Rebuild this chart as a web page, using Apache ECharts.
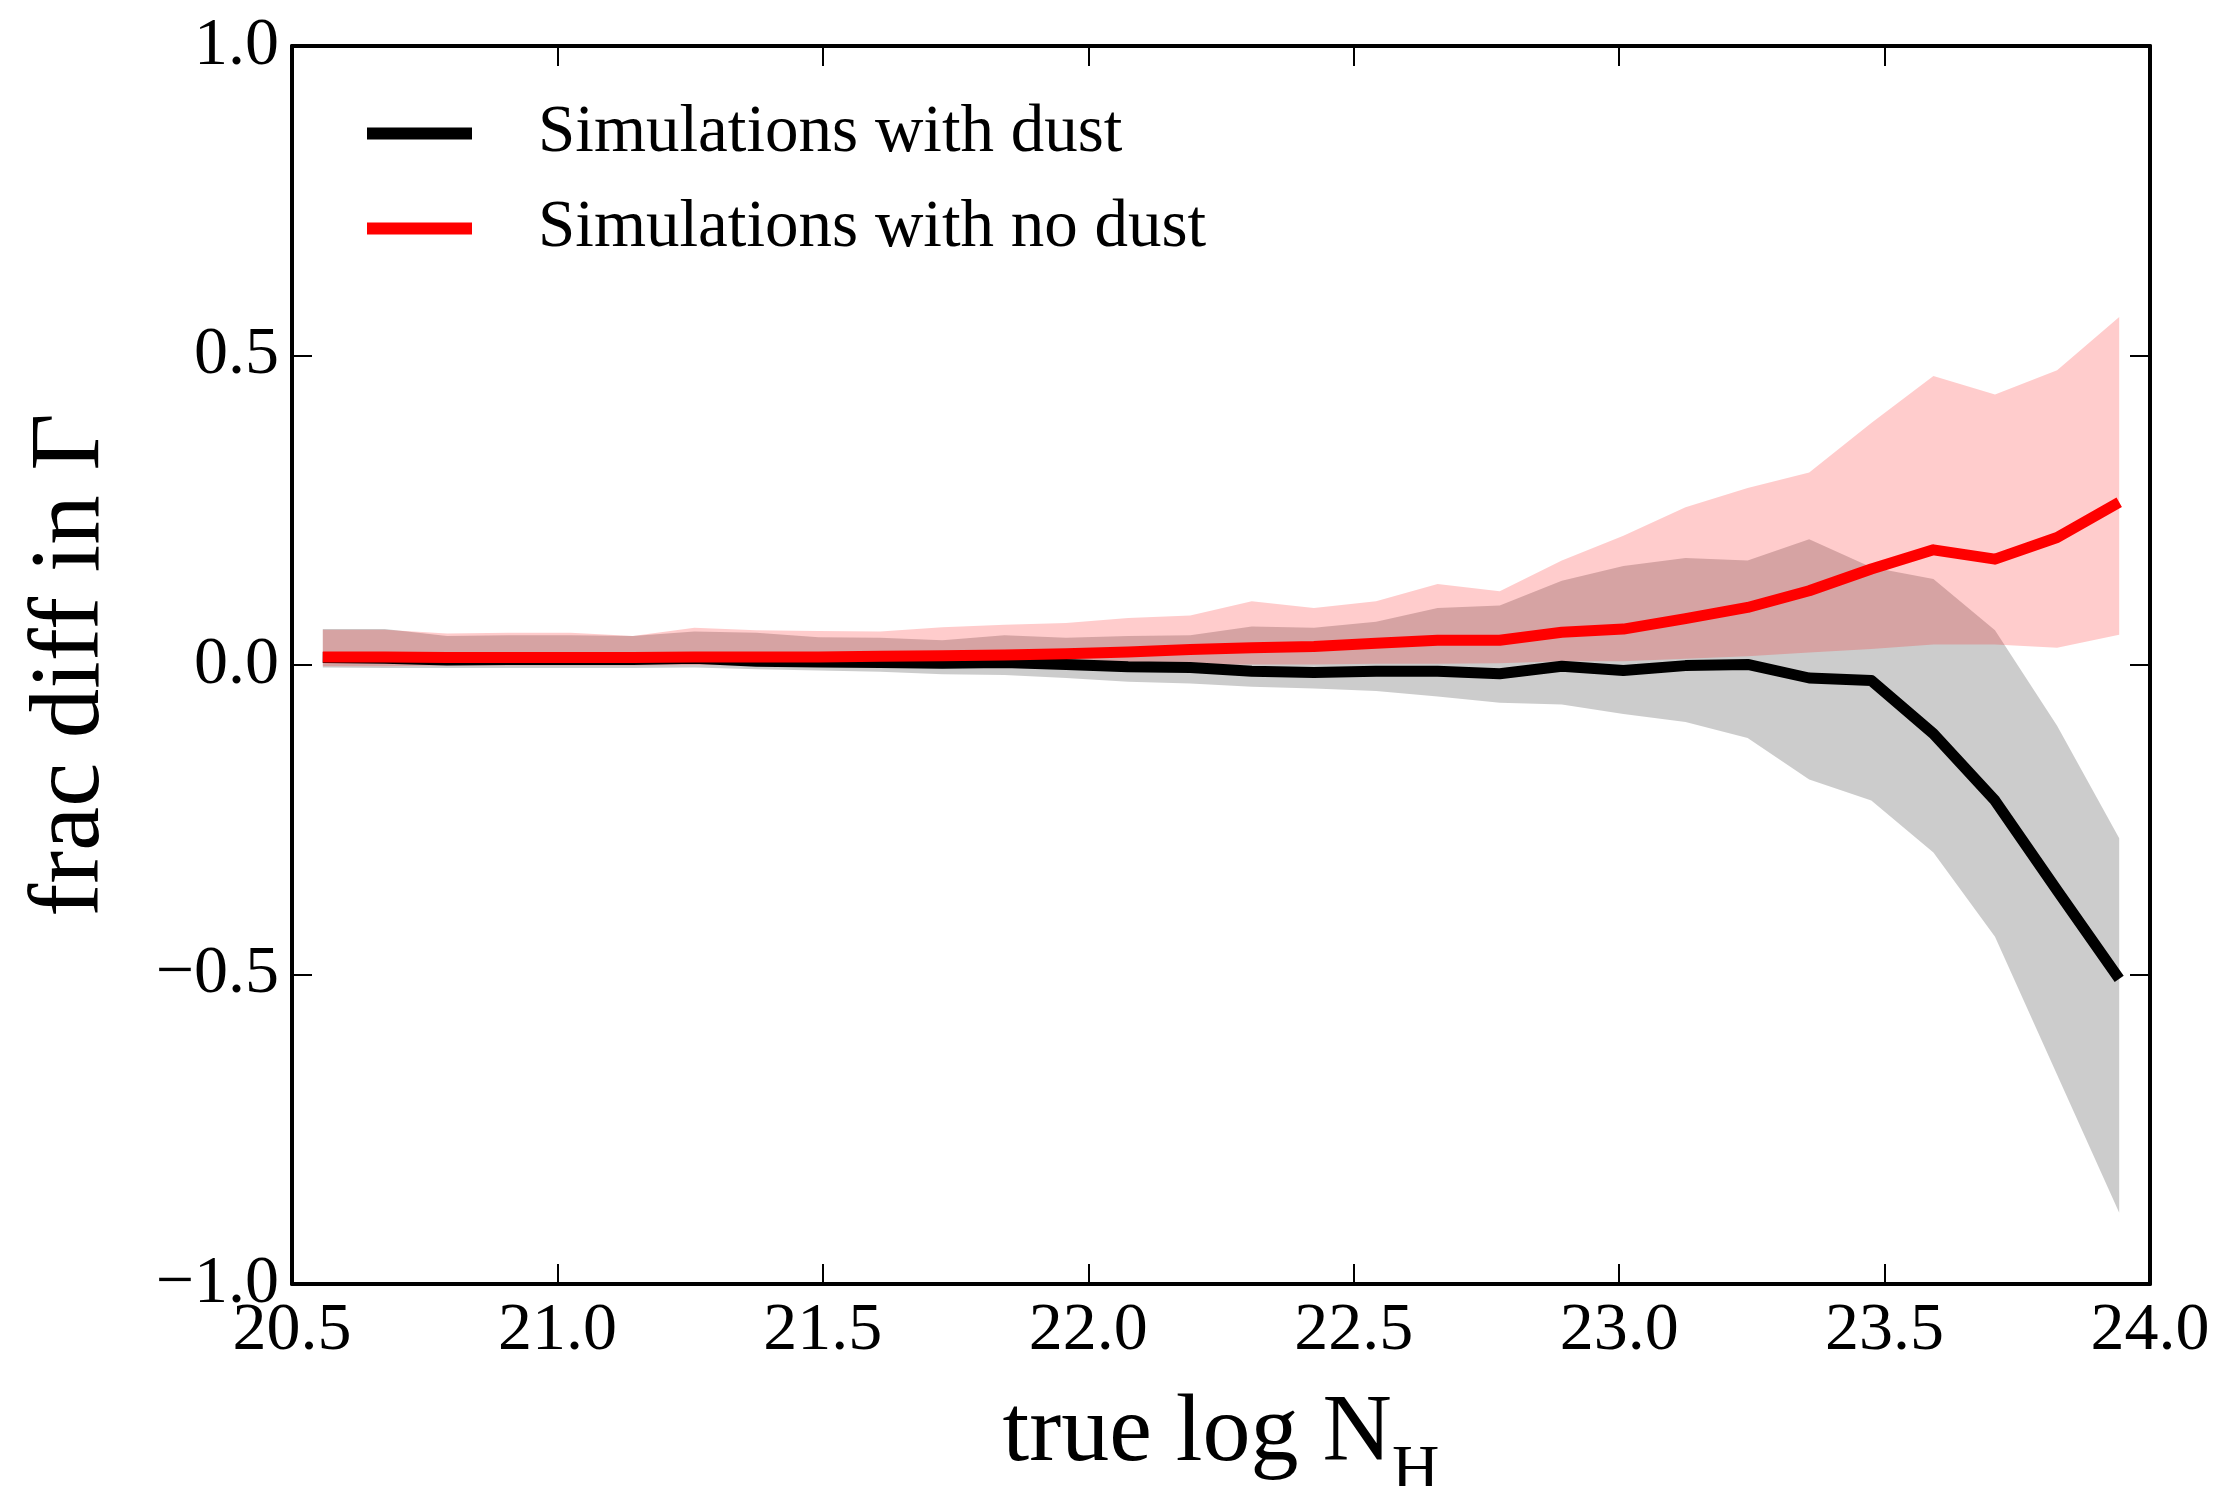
<!DOCTYPE html>
<html>
<head>
<meta charset="utf-8">
<script src="https://cdn.jsdelivr.net/npm/echarts@6/dist/echarts.min.js"></script>
<style>
  html, body { margin: 0; padding: 0; background: #ffffff; }
  #chart { width: 2230px; height: 1486px; }
</style>
</head>
<body>
<div id="chart"></div>
<script>
// Bin centres in true log N_H
const logNH = [20.558, 20.675, 20.792, 20.908, 21.025, 21.142, 21.258, 21.375, 21.492, 21.608,
               21.725, 21.842, 21.958, 22.075, 22.192, 22.308, 22.425, 22.542, 22.658, 22.775,
               22.892, 23.008, 23.125, 23.242, 23.358, 23.475, 23.592, 23.708, 23.825, 23.942];

// Median fractional difference in Gamma, simulations with dust
const dustMedian = [0.012, 0.011, 0.008, 0.009, 0.009, 0.009, 0.011, 0.006, 0.005, 0.004,
                    0.003, 0.004, 0.001, -0.003, -0.004, -0.010, -0.012, -0.010, -0.010, -0.014,
                    -0.002, -0.009, -0.001, 0.001, -0.021, -0.025, -0.111, -0.219, -0.364, -0.507];
// Spread of the dust simulations (lower / upper bounds)
const dustLower = [-0.004, -0.005, -0.005, -0.005, -0.005, -0.005, -0.004, -0.007, -0.009, -0.011,
                   -0.015, -0.016, -0.021, -0.027, -0.030, -0.035, -0.038, -0.042, -0.051, -0.061,
                   -0.064, -0.079, -0.092, -0.118, -0.185, -0.219, -0.303, -0.439, -0.662, -0.885];
const dustUpper = [0.058, 0.058, 0.047, 0.048, 0.048, 0.047, 0.054, 0.052, 0.045, 0.044,
                   0.040, 0.048, 0.044, 0.047, 0.048, 0.062, 0.060, 0.070, 0.092, 0.096,
                   0.136, 0.160, 0.173, 0.169, 0.203, 0.158, 0.139, 0.056, -0.098, -0.280];

// Median fractional difference in Gamma, simulations without dust
const noDustMedian = [0.013, 0.013, 0.012, 0.012, 0.012, 0.012, 0.013, 0.013, 0.013, 0.014,
                      0.015, 0.016, 0.018, 0.021, 0.025, 0.028, 0.030, 0.035, 0.040, 0.040,
                      0.053, 0.058, 0.075, 0.093, 0.120, 0.155, 0.186, 0.171, 0.206, 0.263];
const noDustLower = [-0.002, -0.002, -0.001, -0.001, -0.001, -0.001, 0.000, -0.001, -0.001, -0.001,
                     -0.001, 0.000, 0.000, 0.000, 0.000, 0.001, 0.001, 0.002, 0.002, 0.003,
                     0.006, 0.006, 0.010, 0.014, 0.020, 0.026, 0.033, 0.033, 0.028, 0.049];
const noDustUpper = [0.057, 0.057, 0.051, 0.052, 0.052, 0.047, 0.060, 0.056, 0.055, 0.054,
                     0.061, 0.065, 0.068, 0.076, 0.080, 0.103, 0.092, 0.103, 0.131, 0.119,
                     0.169, 0.209, 0.255, 0.286, 0.311, 0.391, 0.467, 0.437, 0.476, 0.562];

const seriesNames = ['Simulations with dust', 'Simulations with no dust'];
const xTicks = { min: 20.5, max: 24.0, step: 0.5 };
const yTicks = { min: -1.0, max: 1.0, step: 0.5 };

const FONT = '"Liberation Serif", "Times New Roman", serif';

const pairs = (ys) => logNH.map((x, i) => [x, ys[i]]);
const fmt = (v) => (v < 0 ? '\u2212' + Math.abs(v).toFixed(1) : v.toFixed(1));

const tickStyle = { show: true, inside: true, length: 20, lineStyle: { color: '#000', width: 2 } };
const lineStyleAxis = { show: true, onZero: false, lineStyle: { color: '#000', width: 4 } };

// Shaded spread between a lower and an upper bound, drawn as one polygon
// through the cartesian coordinate system.
function bandSeries(name, lo, hi, fill) {
  return {
    type: 'custom', name: name, silent: true, z: 1,
    data: logNH.map((x, i) => [x, lo[i], hi[i]]),
    encode: { x: 0, y: [1, 2] },
    renderItem: function (params, api) {
      if (params.dataIndex !== 0) return;
      const top = logNH.map((x, i) => api.coord([x, hi[i]]));
      const bottom = logNH.map((x, i) => api.coord([x, lo[i]])).reverse();
      return {
        type: 'polygon',
        shape: { points: top.concat(bottom) },
        style: { fill: fill, stroke: null }
      };
    }
  };
}

const chart = echarts.init(document.getElementById('chart'), null, { renderer: 'canvas' });

chart.setOption({
  animation: false,
  backgroundColor: '#ffffff',
  grid: { left: 292, right: 80, top: 46, bottom: 202, containLabel: false, outerBoundsMode: 'none' },
  legend: {
    data: seriesNames,
    orient: 'vertical',
    left: 362, top: 95,
    itemWidth: 105, itemHeight: 12, itemGap: 28,
    icon: 'rect',
    selectedMode: false,
    textStyle: { fontFamily: FONT, fontSize: 67, lineHeight: 66, color: '#000', padding: [0, 0, 0, 61] }
  },
  xAxis: [
    {
      type: 'value', position: 'bottom', min: xTicks.min, max: xTicks.max, interval: xTicks.step,
      axisLine: lineStyleAxis, axisTick: tickStyle, splitLine: { show: false },
      axisLabel: { fontFamily: FONT, fontSize: 68, color: '#000', margin: 13, formatter: fmt,
                   showMinLabel: true, showMaxLabel: true, hideOverlap: false },
      name: '{m|true log N}{s|H}',
      nameLocation: 'middle', nameGap: 103,
      nameTextStyle: {
        color: '#000', fontFamily: FONT,
        rich: {
          m: { fontFamily: FONT, fontSize: 96, lineHeight: 96, verticalAlign: 'top', color: '#000' },
          s: { fontFamily: FONT, fontSize: 66, lineHeight: 119, verticalAlign: 'bottom', color: '#000' }
        }
      }
    },
    {
      type: 'value', position: 'top', min: xTicks.min, max: xTicks.max, interval: xTicks.step,
      axisLine: lineStyleAxis, axisTick: tickStyle, splitLine: { show: false },
      axisLabel: { show: false }
    }
  ],
  yAxis: [
    {
      type: 'value', position: 'left', min: yTicks.min, max: yTicks.max, interval: yTicks.step,
      axisLine: lineStyleAxis, axisTick: tickStyle, splitLine: { show: false },
      axisLabel: { fontFamily: FONT, fontSize: 68, color: '#000', margin: 13, formatter: fmt,
                   padding: [0, 0, 10, 0], showMinLabel: true, showMaxLabel: true, hideOverlap: false },
      name: 'frac diff in \u0393',
      nameLocation: 'middle', nameGap: 171, nameRotate: 90,
      nameTextStyle: { fontFamily: FONT, fontSize: 99, lineHeight: 99, color: '#000' }
    },
    {
      type: 'value', position: 'right', min: yTicks.min, max: yTicks.max, interval: yTicks.step,
      axisLine: lineStyleAxis, axisTick: tickStyle, splitLine: { show: false },
      axisLabel: { show: false }
    }
  ],
  series: [
    bandSeries('dust spread', dustLower, dustUpper, 'rgba(0,0,0,0.2)'),
    bandSeries('no dust spread', noDustLower, noDustUpper, 'rgba(255,0,0,0.2)'),
    {
      type: 'line', name: seriesNames[0], data: pairs(dustMedian), symbol: 'none',
      color: '#000000',
      lineStyle: { color: '#000000', width: 11, join: 'round', cap: 'butt' }, z: 3
    },
    {
      type: 'line', name: seriesNames[1], data: pairs(noDustMedian), symbol: 'none',
      color: '#ff0000',
      lineStyle: { color: '#ff0000', width: 11, join: 'round', cap: 'butt' }, z: 4
    }
  ]
});
</script>
</body>
</html>
